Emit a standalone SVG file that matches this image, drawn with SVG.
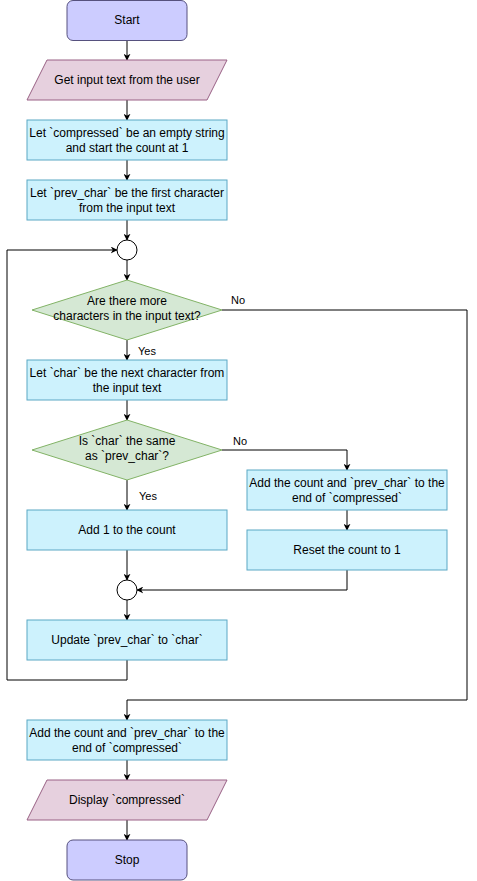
<svg xmlns="http://www.w3.org/2000/svg" width="477" height="881" viewBox="0 0 477 881">
<style>
text{font-family:"Liberation Sans",Arial,sans-serif;font-size:12px;fill:#000;text-anchor:middle}
.lbl{font-size:11px;text-anchor:start}
.term{fill:#ccccff;stroke:#56517e}
.io{fill:#e6d0de;stroke:#996185}
.proc{fill:#cdf2fd;stroke:#5ba7c4}
.dec{fill:#d5e8d4;stroke:#82b366}
.jn{fill:#fff;stroke:#000}
.c{fill:none;stroke:#000;stroke-width:1}
</style>
<defs>
<marker id="ar" viewBox="0 0 10 10" refX="9" refY="5" markerWidth="7" markerHeight="7" orient="auto" markerUnits="userSpaceOnUse">
<path d="M0,0 L10,5 L0,10 L3,5 z" fill="#000"/>
</marker>
</defs>
<rect width="477" height="881" fill="#fff"/>
<g id="connectors">
<path class="c" d="M127,40 V60" marker-end="url(#ar)"/>
<path class="c" d="M127,100 V120" marker-end="url(#ar)"/>
<path class="c" d="M127,160 V180" marker-end="url(#ar)"/>
<path class="c" d="M127,220 V240" marker-end="url(#ar)"/>
<path class="c" d="M127,260 V280" marker-end="url(#ar)"/>
<path class="c" d="M127,340 V360" marker-end="url(#ar)"/>
<path class="c" d="M222,310 H467 V700 H127 V720" marker-end="url(#ar)"/>
<path class="c" d="M127,400 V420" marker-end="url(#ar)"/>
<path class="c" d="M222,450 H347 V470" marker-end="url(#ar)"/>
<path class="c" d="M127,480 V510" marker-end="url(#ar)"/>
<path class="c" d="M347,510 V530" marker-end="url(#ar)"/>
<path class="c" d="M127,550 V580" marker-end="url(#ar)"/>
<path class="c" d="M347,570 V590 H137" marker-end="url(#ar)"/>
<path class="c" d="M127,600 V620" marker-end="url(#ar)"/>
<path class="c" d="M127,660 V680 H7 V250 H117" marker-end="url(#ar)"/>
<path class="c" d="M127,760 V780" marker-end="url(#ar)"/>
<path class="c" d="M127,820 V840" marker-end="url(#ar)"/>
<text class="lbl" x="231" y="304">No</text>
<text class="lbl" x="138" y="355">Yes</text>
<text class="lbl" x="233" y="445">No</text>
<text class="lbl" x="139" y="500">Yes</text>
</g>
<g id="start"><rect class="term" x="67" y="0.5" width="120" height="40" rx="6"/><text x="127" y="24">Start</text></g>
<g id="input"><polygon class="io" points="47,60 227,60 207,100 27,100"/><text x="127" y="84">Get input text from the user</text></g>
<g id="init"><rect class="proc" x="27" y="120" width="200" height="40"/><text x="127" y="137">Let `compressed` be an empty string</text><text x="127" y="152">and start the count at 1</text></g>
<g id="prev"><rect class="proc" x="27" y="180" width="200" height="40"/><text x="127" y="197">Let `prev_char` be the first character</text><text x="127" y="212">from the input text</text></g>
<g id="join1"><circle class="jn" cx="127" cy="250" r="10"/></g>
<g id="more"><polygon class="dec" points="127,280 222,310 127,340 32,310"/><text x="127" y="305">Are there more</text><text x="127" y="320">characters in the input text?</text></g>
<g id="next"><rect class="proc" x="27" y="360" width="200" height="40"/><text x="127" y="377">Let `char` be the next character from</text><text x="127" y="392">the input text</text></g>
<g id="same"><polygon class="dec" points="127,420 222,450 127,480 32,450"/><text x="127" y="445">Is `char` the same</text><text x="127" y="460">as `prev_char`?</text></g>
<g id="addcount"><rect class="proc" x="247" y="470" width="200" height="40"/><text x="347" y="487">Add the count and `prev_char` to the</text><text x="347" y="502">end of `compressed`</text></g>
<g id="reset"><rect class="proc" x="247" y="530" width="200" height="40"/><text x="347" y="554">Reset the count to 1</text></g>
<g id="add1"><rect class="proc" x="27" y="510" width="200" height="40"/><text x="127" y="534">Add 1 to the count</text></g>
<g id="join2"><circle class="jn" cx="127" cy="590" r="10"/></g>
<g id="update"><rect class="proc" x="27" y="620" width="200" height="40"/><text x="127" y="644">Update `prev_char` to `char`</text></g>
<g id="final"><rect class="proc" x="27" y="720" width="200" height="40"/><text x="127" y="737">Add the count and `prev_char` to the</text><text x="127" y="752">end of `compressed`</text></g>
<g id="display"><polygon class="io" points="47,780 227,780 207,820 27,820"/><text x="127" y="804">Display `compressed`</text></g>
<g id="stop"><rect class="term" x="67" y="840" width="120" height="40" rx="6"/><text x="127" y="864">Stop</text></g>
</svg>
